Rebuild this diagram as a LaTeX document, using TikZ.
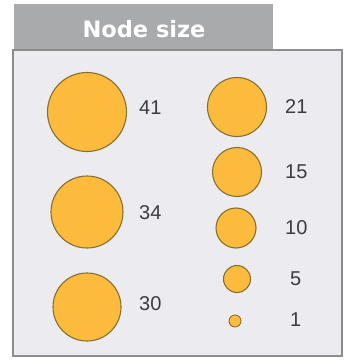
\documentclass[tikz,border=0pt]{standalone}
\usepackage{fontspec}
\setmainfont{Liberation Sans}
\newfontfamily\titlefont{DejaVu Sans}
\usepackage{tikz}
\usetikzlibrary{positioning}
\definecolor{NPanel}{HTML}{ECECF0}
\definecolor{NFrame}{HTML}{8C8C8E}
\definecolor{NTab}{HTML}{A9AAAC}
\definecolor{NOrange}{HTML}{FDBB3E}
\definecolor{NRim}{HTML}{85702F}
\definecolor{NInk}{HTML}{3C3C40}

\begin{document}
\begin{tikzpicture}[
  x=1pt, y=-1pt,
  panel/.style={draw=NFrame, line width=1.2pt, fill=NPanel},
  tab/.style={fill=NTab},
  bubble/.style={circle, draw=NRim, line width=1.1pt, fill=NOrange,
                 inner sep=0pt},
  val/.style={font=\fontsize{20}{20}\selectfont, text=NInk, inner sep=0pt,
              anchor=west},
]
\useasboundingbox (0,0) rectangle (347,361);

% ── frame and title tab ─────────────────────────────────────────────────
\fill[tab] (14,4) rectangle (273,50);
\draw[panel] (13,50) rectangle (342,356);
\node[text=white, font=\titlefont\bfseries\fontsize{22.5}{22.5}\selectfont]
  (title) at (144,29) {Node size};

% ── left column ──────────────────────────────────────────────────────────
\node[bubble, minimum size=79pt] (n41) at (87,112) {};
\node[bubble, minimum size=72pt] (n34) at (87,212) {};
\node[bubble, minimum size=68pt] (n30) at (87,307) {};

\node[val] (l41) at (139,108) {41};
\node[val] (l34) at (139,213) {34};
\node[val] (l30) at (139,304) {30};

% ── right column ─────────────────────────────────────────────────────────
\node[bubble, minimum size=59pt] (n21) at (237,107) {};
\node[bubble, minimum size=49pt] (n15) at (237,172) {};
\node[bubble, minimum size=40pt] (n10) at (236,228) {};
\node[bubble, minimum size=27pt] (n5)  at (237,279) {};
\node[bubble, minimum size=12pt, line width=0.9pt] (n1) at (235,321) {};

\node[val] (l21) at (285,107) {21};
\node[val] (l15) at (285,172) {15};
\node[val] (l10) at (285,228) {10};
\node[val] (l5)  at (290,279) {5};
\node[val] (l1)  at (290,320) {1};

\end{tikzpicture}
\end{document}
